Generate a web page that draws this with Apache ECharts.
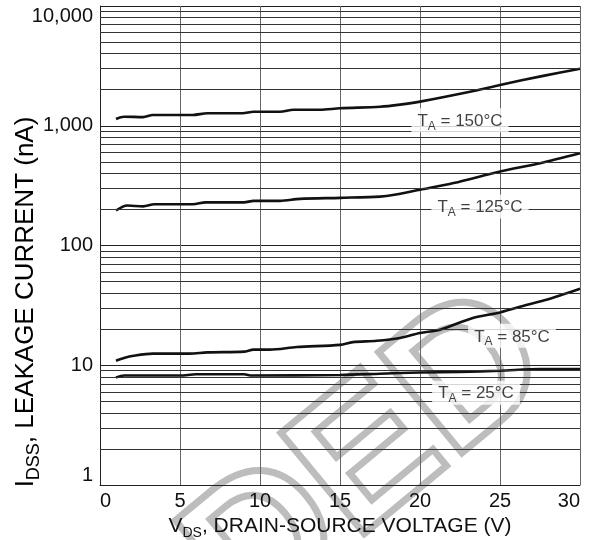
<!DOCTYPE html>
<html><head><meta charset="utf-8">
<script src="https://cdn.jsdelivr.net/npm/echarts@6/dist/echarts.min.js"></script>
<style>html,body{margin:0;padding:0;background:#fff;overflow:hidden}#c{width:595px;height:540px}</style>
</head><body><div id="c"></div>
<script>
// ---- data ----
const xTicks = [0, 5, 10, 15, 20, 25, 30];
const yTicks = [1, 10, 100, 1000, 10000];

const vds150 = [1, 1.5, 2.7, 3.3, 5.8, 6.7, 8.9, 9.6, 11.25, 12.1, 13.75, 15, 17.5, 18.75, 20, 23.5, 25, 27.7, 30];
const idss150 = [1140, 1190, 1180, 1230, 1230, 1270, 1270, 1310, 1310, 1360, 1360, 1400, 1440, 1500, 1590, 1970, 2190, 2610, 2990];

const vds125 = [1, 1.7, 2.7, 3.4, 5.8, 6.6, 9, 9.6, 11.25, 12.5, 15, 17.5, 18.4, 20, 22.1, 25, 27.5, 30];
const idss125 = [196, 216, 212, 221, 221, 229, 229, 236, 236, 245, 250, 256, 265, 292, 332, 415, 487, 590];

const vds85 = [1, 1.5, 2.1, 3.3, 5.6, 6.7, 9, 9.6, 10.6, 12.3, 15, 15.8, 17.3, 18.75, 20, 21.25, 23.3, 25, 26.7, 27.9, 30];
const idss85 = [10.9, 11.5, 12.0, 12.5, 12.5, 12.8, 13.0, 13.5, 13.5, 14.2, 14.8, 15.6, 16.0, 16.9, 18.6, 19.8, 24.8, 27.6, 32, 35.2, 43.5];

const vds25 = [1, 1.5, 5, 6, 9, 9.5, 15, 17.5, 20, 22.5, 25, 27.5, 30];
const idss25 = [7.9, 8.2, 8.2, 8.4, 8.4, 8.2, 8.3, 8.5, 8.7, 8.8, 9.0, 9.3, 9.3];

const curveNames = ['150', '125', '85', '25'];
const labelX = [22.5, 23.75, 25.75, 23.5];
const labelY = [1110, 212, 17.6, 5.9];

const minorGrid = [2,3,4,5,6,7,8,9, 20,30,40,50,60,70,80,90, 200,300,400,500,600,700,800,900, 2000,3000,4000,5000,6000,7000,8000,9000];

// ---- chart ----
const zip = (xs, ys) => xs.map((x, i) => [x, ys[i]]);
const FONT = 'Liberation Sans, Arial, sans-serif';
const chart = echarts.init(document.getElementById('c'), null, {renderer: 'canvas', width: 595, height: 540});

const curve = (xs, ys) => ({
  type: 'line', data: zip(xs, ys), symbol: 'none', smooth: 0.3, z: 3,
  lineStyle: {color: '#111', width: 2.6}, silent: true
});
const sub = (big) => ({
  a: {fontSize: big, fontFamily: FONT, color: '#111'},
  b: {fontSize: Math.round(big * 0.68), fontFamily: FONT, color: '#111', padding: [Math.round(big * 0.6), 0, 0, 0]}
});

chart.setOption({
  animation: false,
  backgroundColor: '#fff',
  grid: {left: 100, right: 15, top: 6, bottom: 55, containLabel: false, outerBoundsMode: 'none'},
  xAxis: {
    type: 'value', min: 0, max: 30, interval: 5,
    axisLine: {show: true, onZero: false, lineStyle: {color: '#222', width: 1}},
    axisTick: {show: false},
    splitLine: {show: true, lineStyle: {color: '#666', width: 1}},
    axisLabel: {color: '#111', fontSize: 20, fontFamily: FONT, margin: 6,
      alignMinLabel: 'left', alignMaxLabel: 'right',
      formatter: v => xTicks.includes(v) ? String(v) : ''},
    name: '{a|V}{b|DS}{a|, DRAIN-SOURCE VOLTAGE (V)}',
    nameLocation: 'middle', nameGap: 25,
    nameTextStyle: {rich: sub(21)}
  },
  yAxis: {
    type: 'log', logBase: 10, min: 1, max: 10000,
    axisLine: {show: true, lineStyle: {color: '#222', width: 1}},
    axisTick: {show: false},
    splitLine: {show: true, lineStyle: {color: '#222', width: 1}},
    axisLabel: {color: '#111', fontSize: 20, fontFamily: FONT, margin: 7,
      verticalAlignMinLabel: 'bottom', verticalAlignMaxLabel: 'top',
      formatter: v => yTicks.includes(v) ? v.toLocaleString('en-US') : ''}
  },
  graphic: [
    {
      type: 'text', x: 26, y: 302, rotation: Math.PI / 2, z: 5,
      style: {text: '{a|I}{b|DSS}{a|, LEAKAGE CURRENT (nA)}', align: 'center', verticalAlign: 'middle',
        rich: sub(26)}
    },
    {
      type: 'text', left: 150, top: 255, rotation: Math.PI * 0.22, z: 0,
      style: {text: 'DED', font: 'bold 190px Liberation Sans, Arial', fill: 'rgba(0,0,0,0)',
        stroke: '#bdbdbd', lineWidth: 7}
    }
  ],
  series: [
    {
      type: 'line', data: [], z: 1, silent: true,
      markLine: {silent: true, symbol: 'none', label: {show: false}, animation: false,
        lineStyle: {color: '#333', width: 1, type: 'solid'},
        data: minorGrid.map(v => ({yAxis: v}))}
    },
    curve(vds150, idss150),
    curve(vds125, idss125),
    curve(vds85, idss85),
    curve(vds25, idss25),
    {
      type: 'scatter', z: 10, symbolSize: 1, itemStyle: {color: 'rgba(0,0,0,0)'}, silent: true,
      data: labelX.map((x, i) => ({value: [x, labelY[i]], name: curveNames[i]})),
      label: {show: true, position: 'inside', backgroundColor: '#fff', padding: [2, 6, 0, 6],
        formatter: p => '{a|T}{b|A}{a| = ' + p.name + '°C}',
        rich: sub(17)}
    }
  ]
});
</script></body></html>
